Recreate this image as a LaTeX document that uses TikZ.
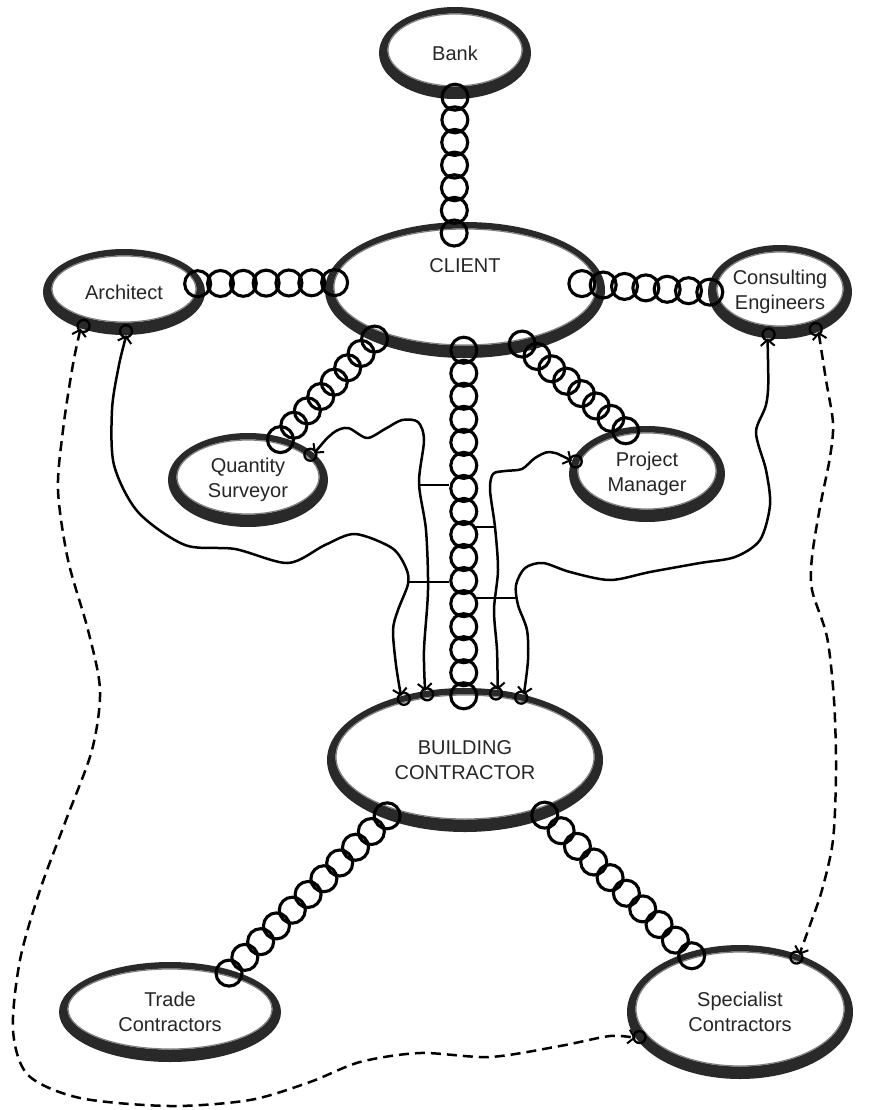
\documentclass[tikz,border=0pt]{standalone}
\usepackage{fontspec}
\setmainfont{Liberation Sans}
\usetikzlibrary{calc,shapes.geometric,arrows.meta}

\tikzset{
  place/.style={ellipse, draw=none, inner sep=0pt, align=center,
    font=\fontsize{20}{25}\selectfont, text=black!85},
  chainlink/.style={draw=black, line width=3.1pt},
  barb/.tip={Straight Barb[length=6pt,width=14pt,line width=2pt]},
  wire/.style={line width=2.5pt, line join=round, barb-barb},
  dashwire/.style={wire, dash pattern=on 10pt off 6pt},
  tie/.style={line width=2.3pt},
  ringfill/.style={fill=black!84, even odd rule},
  ringedge/.style={draw=black!50, line width=1.2pt},
}

% chain of links between two points; #4/#5 push the end links into the rings
\newcommand\chainlinks[5]{%
  \coordinate (chA) at ($(#1)!-#4pt!(#2)$);
  \coordinate (chB) at ($(#2)!-#5pt!(#1)$);
  \foreach \k in {1,...,#3}{%
    \pgfmathsetmacro\lpos{(\k-1)/(#3-1)}%
    \draw[chainlink] ($(chA)!\lpos!(chB)$) circle[radius=13pt];
  }%
}
% small loop where a line is tied onto a ring
\newcommand\knot[2]{\draw[tie] ($(#1)!4pt!(#2)$) circle[radius=6pt];}

\begin{document}
\begin{tikzpicture}[x=1pt,y=-1pt]
  \fill[white] (0,0) rectangle (880,1110);
  \useasboundingbox (0,0) rectangle (880,1110);

  % places
  \node[place, minimum width=152pt, minimum height=92pt]  (bank)   at (455,53)   {Bank};
  \node[place, minimum width=280pt, minimum height=136pt, text depth=48pt] (client) at (465,290) {CLIENT};
  \node[place, minimum width=162pt, minimum height=86pt]  (arch)   at (124,292)  {Architect};
  \node[place, minimum width=144pt, minimum height=94pt]  (ce)     at (780,292)  {Consulting\\Engineers};
  \node[place, minimum width=160pt, minimum height=94pt]  (qs)     at (248,480)  {Quantity\\Surveyor};
  \node[place, minimum width=156pt, minimum height=96pt]  (pm)     at (647,474)  {Project\\Manager};
  \node[place, minimum width=276pt, minimum height=144pt] (bc)     at (465,760)  {BUILDING\\CONTRACTOR};
  \node[place, minimum width=222pt, minimum height=100pt] (trade)  at (170,1012) {Trade\\Contractors};
  \node[place, minimum width=226pt, minimum height=134pt] (spec)   at (740,1012) {Specialist\\Contractors};

  % rings
  \foreach \nm/\a/\b in {bank/76/46, client/140/68, arch/81/43, ce/72/47, qs/80/47,
                         pm/78/48, bc/138/72, trade/111/50, spec/113/67}{
    \fill[ringfill] (\nm.center) ellipse[x radius={\a*1pt}, y radius={\b*1pt}]
      ($(\nm.center)+(0,-3)$) ellipse[x radius={(\a-8.5)*1pt}, y radius={(\b-9.5)*1pt}];
    \draw[ringedge] ($(\nm.center)+(0,-3)$) ellipse[x radius={(\a-9)*1pt}, y radius={(\b-10)*1pt}];
  }

  % chains
  \chainlinks{bank.south}{client.99}{7}{2}{11}
  \chainlinks{arch.6}{client.177}{7}{6}{9}
  \chainlinks{client.2}{ce.west}{7}{23}{2}
  \chainlinks{client.209}{qs.51}{8}{3}{3}
  \chainlinks{client.-43}{pm.118}{8}{10}{4}
  \chainlinks{client.-91}{bc.91}{16}{8}{8}
  \chainlinks{bc.216}{trade.34}{11}{4}{4}
  \chainlinks{bc.-35}{spec.131}{10}{4}{5}

  % solid lines to the building contractor
  \draw[wire] plot[smooth] coordinates {(arch.-87) (118,370) (112,410) (114,465) (138,512)
    (185,545) (235,549) (288,563) (325,545) (355,534) (392,548) (406,568) (408,584)
    (398,610) (393,630) (396,665) (bc.135)};
  \draw[wire] plot[smooth] coordinates {(qs.22) (333,433) (348,428) (367,438) (385,429)
    (402,420) (418,422) (424,440) (419,483) (426,530) (428,590) (424,650) (bc.120)};
  \draw[wire] plot[smooth] coordinates {(pm.170) (550,452) (535,458) (522,469) (505,471)
    (493,474) (490,490) (495,527) (498,570) (494,610) (497,650) (bc.65)};
  \draw[wire] plot[smooth] coordinates {(ce.-105) (767,400) (756,432) (766,470) (770,505)
    (760,540) (735,557) (700,563) (650,572) (610,580) (570,572) (543,563) (525,568)
    (516,585) (518,605) (527,630) (528,660) (bc.48)};

  % cross ties onto the central chain
  \coordinate (t1a) at (419,485); \coordinate (t1b) at (449,485);
  \coordinate (t2a) at (408,582); \coordinate (t2b) at (449,582);
  \coordinate (t3a) at (475,527); \coordinate (t3b) at (495,527);
  \coordinate (t4a) at (475,598); \coordinate (t4b) at (517,598);
  \draw[tie] (t1a) -- (t1b);
  \draw[tie] (t2a) -- (t2b);
  \draw[tie] (t3a) -- (t3b);
  \draw[tie] (t4a) -- (t4b);

  % dashed lines to the specialist contractors
  \draw[dashwire] plot[smooth] coordinates {(arch.220) (72,370) (63,430) (58,490) (68,560)
    (88,630) (100,690) (92,750) (66,820) (40,890) (20,960) (13,1030) (28,1075) (80,1098)
    (170,1106) (250,1100) (310,1082) (360,1062) (420,1053) (490,1057) (560,1046)
    (610,1036) (spec.194)};
  \draw[dashwire] plot[smooth] coordinates {(ce.-46) (826,380) (833,423) (830,457) (820,507)
    (812,557) (812,590) (827,637) (834,700) (836,770) (833,840) (822,890) (810,925)
    (spec.44)};

  % loops tying the lines onto the rings
  \knot{arch.-87}{arch.center}
  \knot{arch.220}{arch.center}
  \knot{qs.22}{qs.center}
  \knot{pm.170}{pm.center}
  \knot{ce.-105}{ce.center}
  \knot{ce.-46}{ce.center}
  \knot{bc.135}{bc.center}
  \knot{bc.120}{bc.center}
  \knot{bc.65}{bc.center}
  \knot{bc.48}{bc.center}
  \knot{spec.194}{spec.center}
  \knot{spec.44}{spec.center}
\end{tikzpicture}
\end{document}
